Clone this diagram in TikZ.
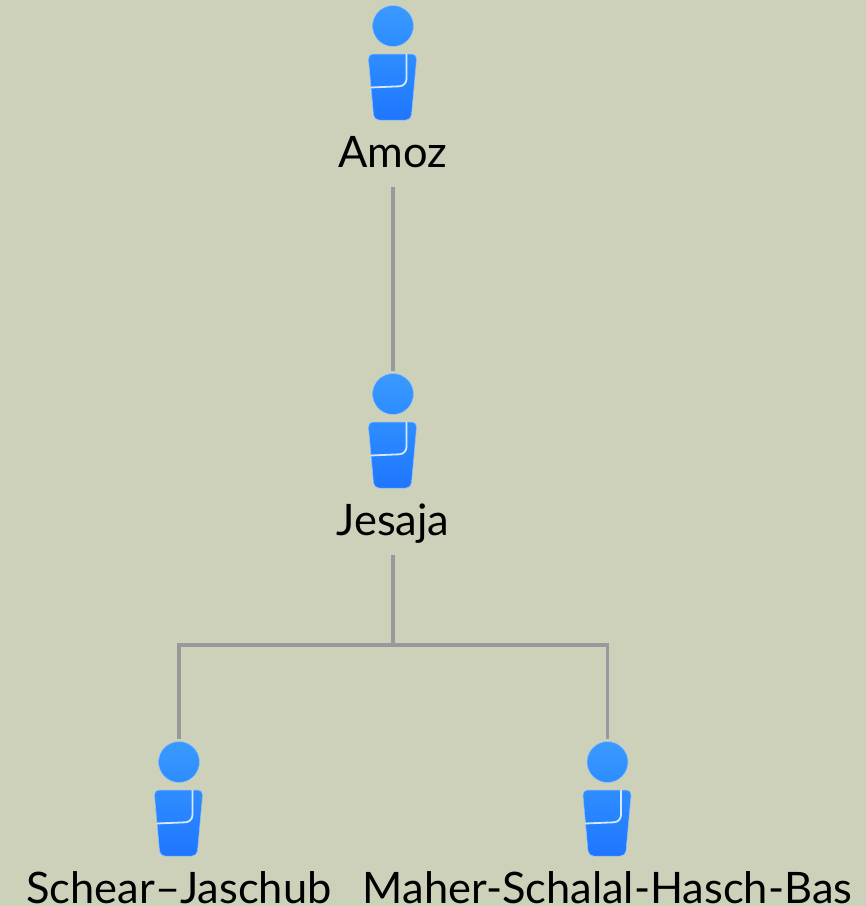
\documentclass[tikz,border=0pt]{standalone}
\usepackage{fontspec}
\setmainfont{Lato}
\usetikzlibrary{positioning}
\definecolor{bgcol}{HTML}{CDD1BA}
\definecolor{linecol}{HTML}{98999C}
\definecolor{headtop}{HTML}{3A9AFF}
\definecolor{headbot}{HTML}{2E8CFF}
\definecolor{bodytop}{HTML}{2F8DFF}
\definecolor{bodybot}{HTML}{1E76FF}
\tikzset{
	personhead/.style = {circle, minimum size=41pt, inner sep=0pt, outer sep=3pt, top color=headtop, bottom color=headbot, draw=white!45!headtop, line width=.5pt},
	personname/.style = {inner sep=0pt, font=\fontsize{43.4}{43.4}\selectfont, text=black},
	kinline/.style = {linecol, line width=3.4pt},
}
\newcommand{\person}[4]{
	\node[personhead] (#1) at (#2,#3) {};
	\draw[top color=bodytop, bottom color=bodybot, draw=white!45!bodytop, line width=.5pt, rounded corners=5pt] (#2-25,#3+28) -- (#2+24,#3+28) -- (#2+18,#3+94) -- (#2-19,#3+94) -- cycle;
	\draw[white!80!bodytop, line width=1.8pt, rounded corners=7pt] (#2+13.5,#3+28) -- (#2+13.5,#3+60) -- (#2-22.5,#3+61.5);
	\node[personname, anchor=base] (#1name) at (#2,#3+141) {#4};
}
\begin{document}
\begin{tikzpicture}[x=1pt, y=-1pt]
	\useasboundingbox[fill=bgcol] (0,0) rectangle (866,906);
	\person{amoz}{393}{26}{Amoz}
	\person{jesaja}{393}{394}{Jesaja}
	\person{schear}{179}{762}{Schear--Jaschub}
	\person{maher}{607.5}{762}{Maher-Schalal-Hasch-Bas}

	\coordinate (amozfoot) at (393,187);
	\coordinate (jesajafoot) at (393,555);
	\coordinate (fork) at (393,645);

	\draw[kinline] (amozfoot) -- (jesaja.north);
	\draw[kinline] (jesajafoot) -- (fork);
	\draw[kinline] (schear.north) |- (fork) -| (maher.north);
\end{tikzpicture}
\end{document}
